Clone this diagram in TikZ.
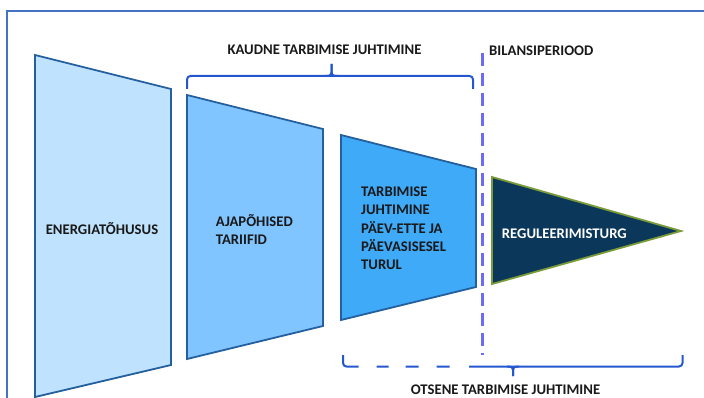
\documentclass[tikz,border=0pt]{standalone}
\usepackage{fontspec}
\setmainfont{Carlito}
\definecolor{frameblue}{HTML}{4472C4}
\definecolor{edgeblue}{HTML}{245F9E}
\definecolor{fillA}{HTML}{BFE3FE}
\definecolor{fillB}{HTML}{80C5FF}
\definecolor{fillC}{HTML}{3FAAF8}
\definecolor{navy}{HTML}{0B375A}
\definecolor{olive}{HTML}{7A9B3A}
\definecolor{braceblue}{HTML}{2457CF}
\definecolor{dashviolet}{HTML}{6B6BF5}
\begin{document}
\begin{tikzpicture}[x=1pt,y=-1pt,
  shapeline/.style={draw=edgeblue, line width=1.8pt, line join=miter},
  lbl/.style={font=\bfseries\fontsize{14.7}{18.3}\selectfont, inner sep=0pt, text=black!90},
  bracestroke/.style={draw=braceblue, line width=2pt, rounded corners=3.5pt}]
\useasboundingbox (0,0) rectangle (704,398);
% frame
\draw[frameblue, line width=2.5pt] (7,402) -- (7,11) -- (708,11);
% funnel shapes
\filldraw[shapeline, fill=fillA] (35,55) coordinate (a1) -- (171,89) coordinate (a2) -- (171,365) coordinate (a3) -- (35,397) coordinate (a4) -- cycle;
\filldraw[shapeline, fill=fillB] (187,95) coordinate (b1) -- (323,129) coordinate (b2) -- (323,326) coordinate (b3) -- (187,359) coordinate (b4) -- cycle;
\filldraw[shapeline, fill=fillC] (341,135) coordinate (c1) -- (476,169) coordinate (c2) -- (476,287) coordinate (c3) -- (341,320) coordinate (c4) -- cycle;
\filldraw[draw=olive, line width=1.8pt, fill=navy, line join=miter] (492,177) coordinate (d1) -- (681,231) coordinate (d2) -- (492,284) coordinate (d3) -- cycle;
% vertical dashed line
\coordinate (vtop) at (482.5,53);
\coordinate (vbot) at (482.5,355);
\draw[dashviolet, line width=3.3pt, dash pattern=on 13pt off 7pt] (vtop) -- (vbot);
% top brace
\coordinate (tl) at (187,89);
\coordinate (tr) at (473,89);
\coordinate (tm) at (331.5,76);
\coordinate (ttip) at (331.5,64);
\draw[bracestroke] (tl) -- (187,76) -- (473,76) -- (tr);
\draw[bracestroke] (325,76) -- (tm) -- (ttip);
\draw[bracestroke] (338,76) -- (tm) -- (ttip);
% bottom brace
\coordinate (bl) at (343,355);
\coordinate (bs) at (469,366.5);
\coordinate (br) at (682.5,355);
\coordinate (bm) at (513,366.5);
\coordinate (btip) at (513,376);
\draw[bracestroke, dash pattern=on 25.5pt off 18pt on 12pt off 17pt on 13pt off 18pt on 13pt off 40pt] (bl) -- (343,366.5) -- (bs);
\draw[bracestroke] (bs) -- (682.5,366.5) -- (br);
\draw[bracestroke] (507,366.5) -- (bm) -- (btip);
\draw[bracestroke] (519,366.5) -- (bm) -- (btip);
% labels
\node[lbl, anchor=base] (kaudne) at (324.5,54.7) {KAUDNE TARBIMISE JUHTIMINE};
\node[lbl, anchor=base west] (bilans) at (489,55.2) {BILANSIPERIOOD};
\node[lbl, anchor=base] (otsene) at (505.5,394.7) {OTSENE TARBIMISE JUHTIMINE};
\node[lbl, anchor=base] (energia) at (102,234.7) {ENERGIATÕHUSUS};
\node[lbl, anchor=base west, align=left] (ajap) at (215.7,244.7) {AJAPÕHISED\\TARIIFID};
\node[lbl, anchor=base west, align=left] (tarb) at (361,269.7) {TARBIMISE\\JUHTIMINE\\PÄEV-ETTE JA\\PÄEVASISESEL\\TURUL};
\node[lbl, anchor=base west, text=white] (regul) at (501.7,238.7) {REGULEERIMISTURG};
\end{tikzpicture}
\end{document}
